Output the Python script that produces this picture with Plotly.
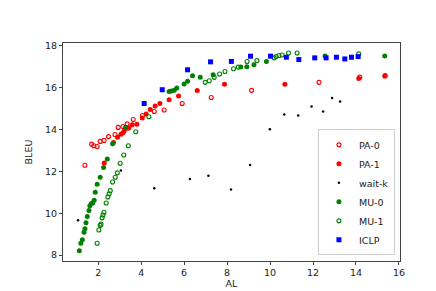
import plotly.graph_objects as go

# ---- data (AL, BLEU) ----
pa0_al = [1.38, 1.69, 1.80, 1.95, 2.09, 2.27, 2.48, 2.78, 2.93, 3.15, 3.35, 3.63, 4.06, 4.61, 5.07, 5.91, 7.26, 9.14, 12.28, 14.18, 15.36]
pa0_bleu = [12.29, 13.30, 13.22, 13.19, 13.43, 13.48, 13.66, 13.76, 14.10, 14.14, 14.27, 14.48, 14.67, 14.86, 14.93, 15.24, 15.53, 15.87, 16.25, 16.50, 16.57]

pa1_al = [2.28, 2.71, 2.90, 3.06, 3.15, 3.21, 3.37, 3.43, 3.58, 3.80, 4.05, 4.23, 4.42, 4.65, 4.87, 5.30, 5.74, 6.61, 7.88, 10.69, 14.13, 15.34]
pa1_bleu = [12.40, 13.38, 13.63, 13.77, 13.84, 13.93, 14.06, 14.08, 14.23, 14.25, 14.55, 14.74, 14.96, 15.12, 15.24, 15.42, 15.60, 15.86, 16.16, 16.16, 16.44, 16.55]

waitk_al = [1.06, 3.06, 4.61, 6.27, 7.13, 8.18, 9.07, 9.99, 10.66, 11.31, 11.93, 12.47, 12.89, 13.26]
waitk_bleu = [9.66, 12.04, 11.19, 11.64, 11.79, 11.14, 12.31, 14.01, 14.71, 14.67, 15.10, 14.86, 15.50, 15.34]

mu0_al = [1.12, 1.19, 1.26, 1.34, 1.38, 1.43, 1.49, 1.57, 1.61, 1.68, 1.74, 1.81, 1.86, 1.95, 2.09, 2.25, 2.42, 2.67, 3.27,
          5.30, 5.41, 5.54, 5.66, 6.00, 6.16, 6.39, 6.75, 7.35, 8.64, 8.92, 9.25, 9.83, 12.56, 15.34]
mu0_bleu = [8.21, 8.57, 8.74, 9.09, 9.26, 9.55, 9.85, 10.13, 10.36, 10.46, 10.49, 10.62, 11.00, 11.38, 11.72, 12.19, 12.59, 13.32, 14.10,
            15.81, 15.84, 15.87, 15.98, 16.17, 16.30, 16.57, 16.49, 16.61, 16.98, 16.99, 17.09, 17.25, 17.51, 17.51]

mu1_al = [1.95, 2.03, 2.09, 2.13, 2.18, 2.22, 2.27, 2.37, 2.45, 2.51, 2.56, 2.67, 2.79, 2.89, 3.02, 3.19, 3.40, 3.75, 4.36,
          6.98, 7.17, 7.40, 7.65, 7.90, 8.30, 8.52, 8.93, 9.39, 10.19, 10.28, 10.42, 10.56, 10.86, 11.26, 14.13]
mu1_bleu = [8.57, 9.20, 9.42, 9.48, 9.78, 9.92, 10.05, 10.49, 10.78, 10.93, 11.08, 11.49, 11.72, 11.93, 12.39, 12.78, 13.22, 13.89, 14.61,
            16.25, 16.33, 16.49, 16.65, 16.77, 16.90, 16.98, 17.25, 17.29, 17.42, 17.48, 17.53, 17.56, 17.65, 17.65, 17.61]

iclp_al = [4.14, 4.98, 6.16, 7.23, 8.20, 9.09, 10.02, 10.76, 11.34, 12.08, 12.61, 13.09, 13.48, 13.79, 14.10]
iclp_bleu = [15.24, 15.90, 16.85, 17.23, 17.25, 17.50, 17.50, 17.45, 17.34, 17.42, 17.42, 17.45, 17.37, 17.45, 17.48]

x_ticks = [2, 4, 6, 8, 10, 12, 14, 16]
y_ticks = [8, 10, 12, 14, 16, 18]

FONT = "DejaVu Sans"

fig = go.Figure()
fig.add_trace(go.Scatter(x=pa0_al, y=pa0_bleu, mode="markers", name="PA-0",
                         marker=dict(symbol="circle-open", size=4, color="#ff0000", line=dict(width=1.1, color="#ff0000"))))
fig.add_trace(go.Scatter(x=pa1_al, y=pa1_bleu, mode="markers", name="PA-1",
                         marker=dict(symbol="circle", size=5, color="#ff0000", line=dict(width=0))))
fig.add_trace(go.Scatter(x=waitk_al, y=waitk_bleu, mode="markers", name="wait-k",
                         marker=dict(symbol="circle", size=2.5, color="#000000", line=dict(width=0))))
fig.add_trace(go.Scatter(x=mu0_al, y=mu0_bleu, mode="markers", name="MU-0",
                         marker=dict(symbol="circle", size=5, color="#008000", line=dict(width=0))))
fig.add_trace(go.Scatter(x=mu1_al, y=mu1_bleu, mode="markers", name="MU-1",
                         marker=dict(symbol="circle-open", size=4, color="#008000", line=dict(width=1.1, color="#008000"))))
fig.add_trace(go.Scatter(x=iclp_al, y=iclp_bleu, mode="markers", name="ICLP",
                         marker=dict(symbol="square", size=5, color="#0000ff", line=dict(width=0))))

axis_common = dict(showgrid=False, zeroline=False, showline=True, mirror=True,
                   linecolor="#444444", linewidth=1, ticks="outside", ticklen=3,
                   tickcolor="#444444", tickwidth=1,
                   tickfont=dict(family=FONT, size=9.5, color="#222222"))

fig.update_layout(
    width=436, height=291,
    margin=dict(l=55, r=44, t=35, b=36),
    paper_bgcolor="white", plot_bgcolor="white",
    font=dict(family=FONT, size=9.5, color="#222222"),
    xaxis=dict(range=[0.36, 16.05], tickvals=x_ticks, title=dict(text="AL", standoff=2,
               font=dict(family=FONT, size=9.5)), **axis_common),
    yaxis=dict(range=[7.72, 18.13], tickvals=y_ticks, title=dict(text="BLEU", standoff=10,
               font=dict(family=FONT, size=9.5)), **axis_common),
    legend=dict(x=0.985, y=0.026, xanchor="right", yanchor="bottom",
                bgcolor="rgba(255,255,255,0.8)", bordercolor="#cccccc", borderwidth=1,
                font=dict(family=FONT, size=9.5, color="#222222"),
                itemwidth=30, tracegroupgap=0),
    showlegend=True,
)

fig.write_html("out.html")
